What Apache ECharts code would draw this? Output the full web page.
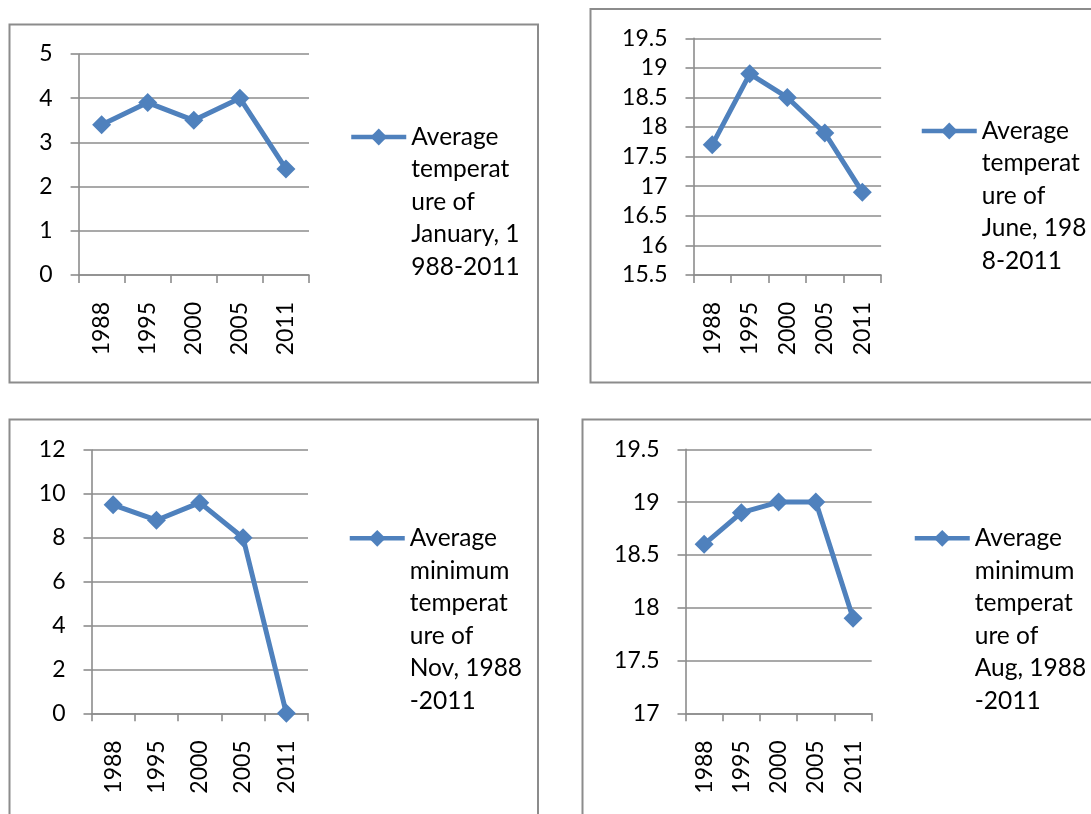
<!DOCTYPE html>
<html>
<head>
<meta charset="utf-8">
<script src="https://cdn.jsdelivr.net/npm/echarts@6/dist/echarts.min.js"></script>
<style>
  html, body { margin: 0; padding: 0; background: #fff; }
  #chart { width: 1091px; height: 814px; }
</style>
</head>
<body>
<div id="chart"></div>
<script>
// Survey years shared by all four panels
const years = ['1988', '1995', '2000', '2005', '2011'];

// Monthly temperature series
const janAvg = [3.4, 3.9, 3.5, 4.0, 2.4];
const junAvg = [17.7, 18.9, 18.5, 17.9, 16.9];
const novMin = [9.5, 8.8, 9.6, 8.0, 0];
const augMin = [18.6, 18.9, 19.0, 19.0, 17.9];

// Legend captions, wrapped line by line
const janName = ['Average', 'temperat', 'ure of', 'January, 1', '988-2011'];
const junName = ['Average', 'temperat', 'ure of', 'June, 198', '8-2011'];
const novName = ['Average', 'minimum', 'temperat', 'ure of', 'Nov, 1988', '-2011'];
const augName = ['Average', 'minimum', 'temperat', 'ure of', 'Aug, 1988', '-2011'];

// Value-axis ranges: [min, max, interval]
const janRange = [0, 5, 1];
const junRange = [15.5, 19.5, 0.5];
const novRange = [0, 12, 2];
const augRange = [17, 19.5, 0.5];

const BLUE = '#4F81BD';
const GRAY = '#8c8c8c';
const FONT = 'Lato';
const LINE_H = 32.5;
const ITEM_H = 21;

// Panel layout: frame box, plot rectangle, legend anchor (icon left, icon centre y)
const panels = [
  { data: janAvg, name: janName, range: janRange,
    box: [9.5, 24.5, 528.5, 358], grid: [78.6, 54, 230.4, 221], legend: [349, 137] },
  { data: junAvg, name: junName, range: junRange,
    box: [590.5, 9, 520, 373.5], grid: [693.5, 38.3, 187.6, 236.7], legend: [919.5, 131] },
  { data: novMin, name: novName, range: novRange,
    box: [9.5, 419.5, 528.5, 420], grid: [91.5, 450, 216.5, 263.3], legend: [347.5, 538.3] },
  { data: augMin, name: augName, range: augRange,
    box: [582.5, 419.5, 520, 420], grid: [685.5, 449.3, 186.2, 264], legend: [912.5, 538.3] }
];

// The legend centres its text on the icon; blank lines above the caption
// push the first caption line onto the icon's row.
function legendFor(p) {
  const n = p.name.length;
  const blockH = (2 * n - 1) * LINE_H;
  return {
    data: [p.name.join('\n')],
    formatter: name => '\n'.repeat(n - 1) + name,
    left: p.legend[0],
    top: p.legend[1] - blockH / 2,
    padding: 0,
    orient: 'vertical',
    itemWidth: 55,
    itemHeight: ITEM_H,
    selectedMode: false,
    lineStyle: { width: 4.5 },
    textStyle: { color: '#000', fontFamily: FONT, fontSize: 24.5, lineHeight: LINE_H }
  };
}

const option = {
  backgroundColor: '#fff',
  animation: false,
  textStyle: { fontFamily: FONT },
  graphic: panels.map(p => ({
    type: 'rect',
    z: -10,
    silent: true,
    shape: { x: p.box[0], y: p.box[1], width: p.box[2], height: p.box[3] },
    style: { fill: 'none', stroke: GRAY, lineWidth: 2 }
  })),
  grid: panels.map(p => ({
    left: p.grid[0], top: p.grid[1], width: p.grid[2], height: p.grid[3],
    containLabel: false
  })),
  xAxis: panels.map((p, i) => ({
    type: 'category',
    gridIndex: i,
    data: years,
    boundaryGap: true,
    axisLine: { show: true, lineStyle: { color: GRAY, width: 1.6 } },
    axisTick: { show: true, length: 8, alignWithLabel: false, interval: 0,
      lineStyle: { color: GRAY, width: 1.6 } },
    axisLabel: { rotate: 90, margin: 27, interval: 0, color: '#000',
      fontFamily: FONT, fontSize: 23 },
    splitLine: { show: false }
  })),
  yAxis: panels.map((p, i) => ({
    type: 'value',
    gridIndex: i,
    min: p.range[0], max: p.range[1], interval: p.range[2],
    axisLine: { show: true, lineStyle: { color: GRAY, width: 1.6 } },
    axisTick: { show: true, length: 8, lineStyle: { color: GRAY, width: 1.6 } },
    axisLabel: { margin: 26, color: '#000', fontFamily: FONT, fontSize: 23 },
    splitLine: { show: true, lineStyle: { color: GRAY, width: 1.6 } }
  })),
  legend: panels.map(legendFor),
  series: panels.map((p, i) => ({
    type: 'line',
    name: p.name.join('\n'),
    xAxisIndex: i,
    yAxisIndex: i,
    data: p.data,
    symbol: 'diamond',
    symbolSize: 19,
    showSymbol: true,
    lineStyle: { color: BLUE, width: 5 },
    itemStyle: { color: BLUE },
    emphasis: { disabled: true }
  }))
};

const chart = echarts.init(document.getElementById('chart'), null, { renderer: 'canvas' });
chart.setOption(option);
</script>
</body>
</html>
